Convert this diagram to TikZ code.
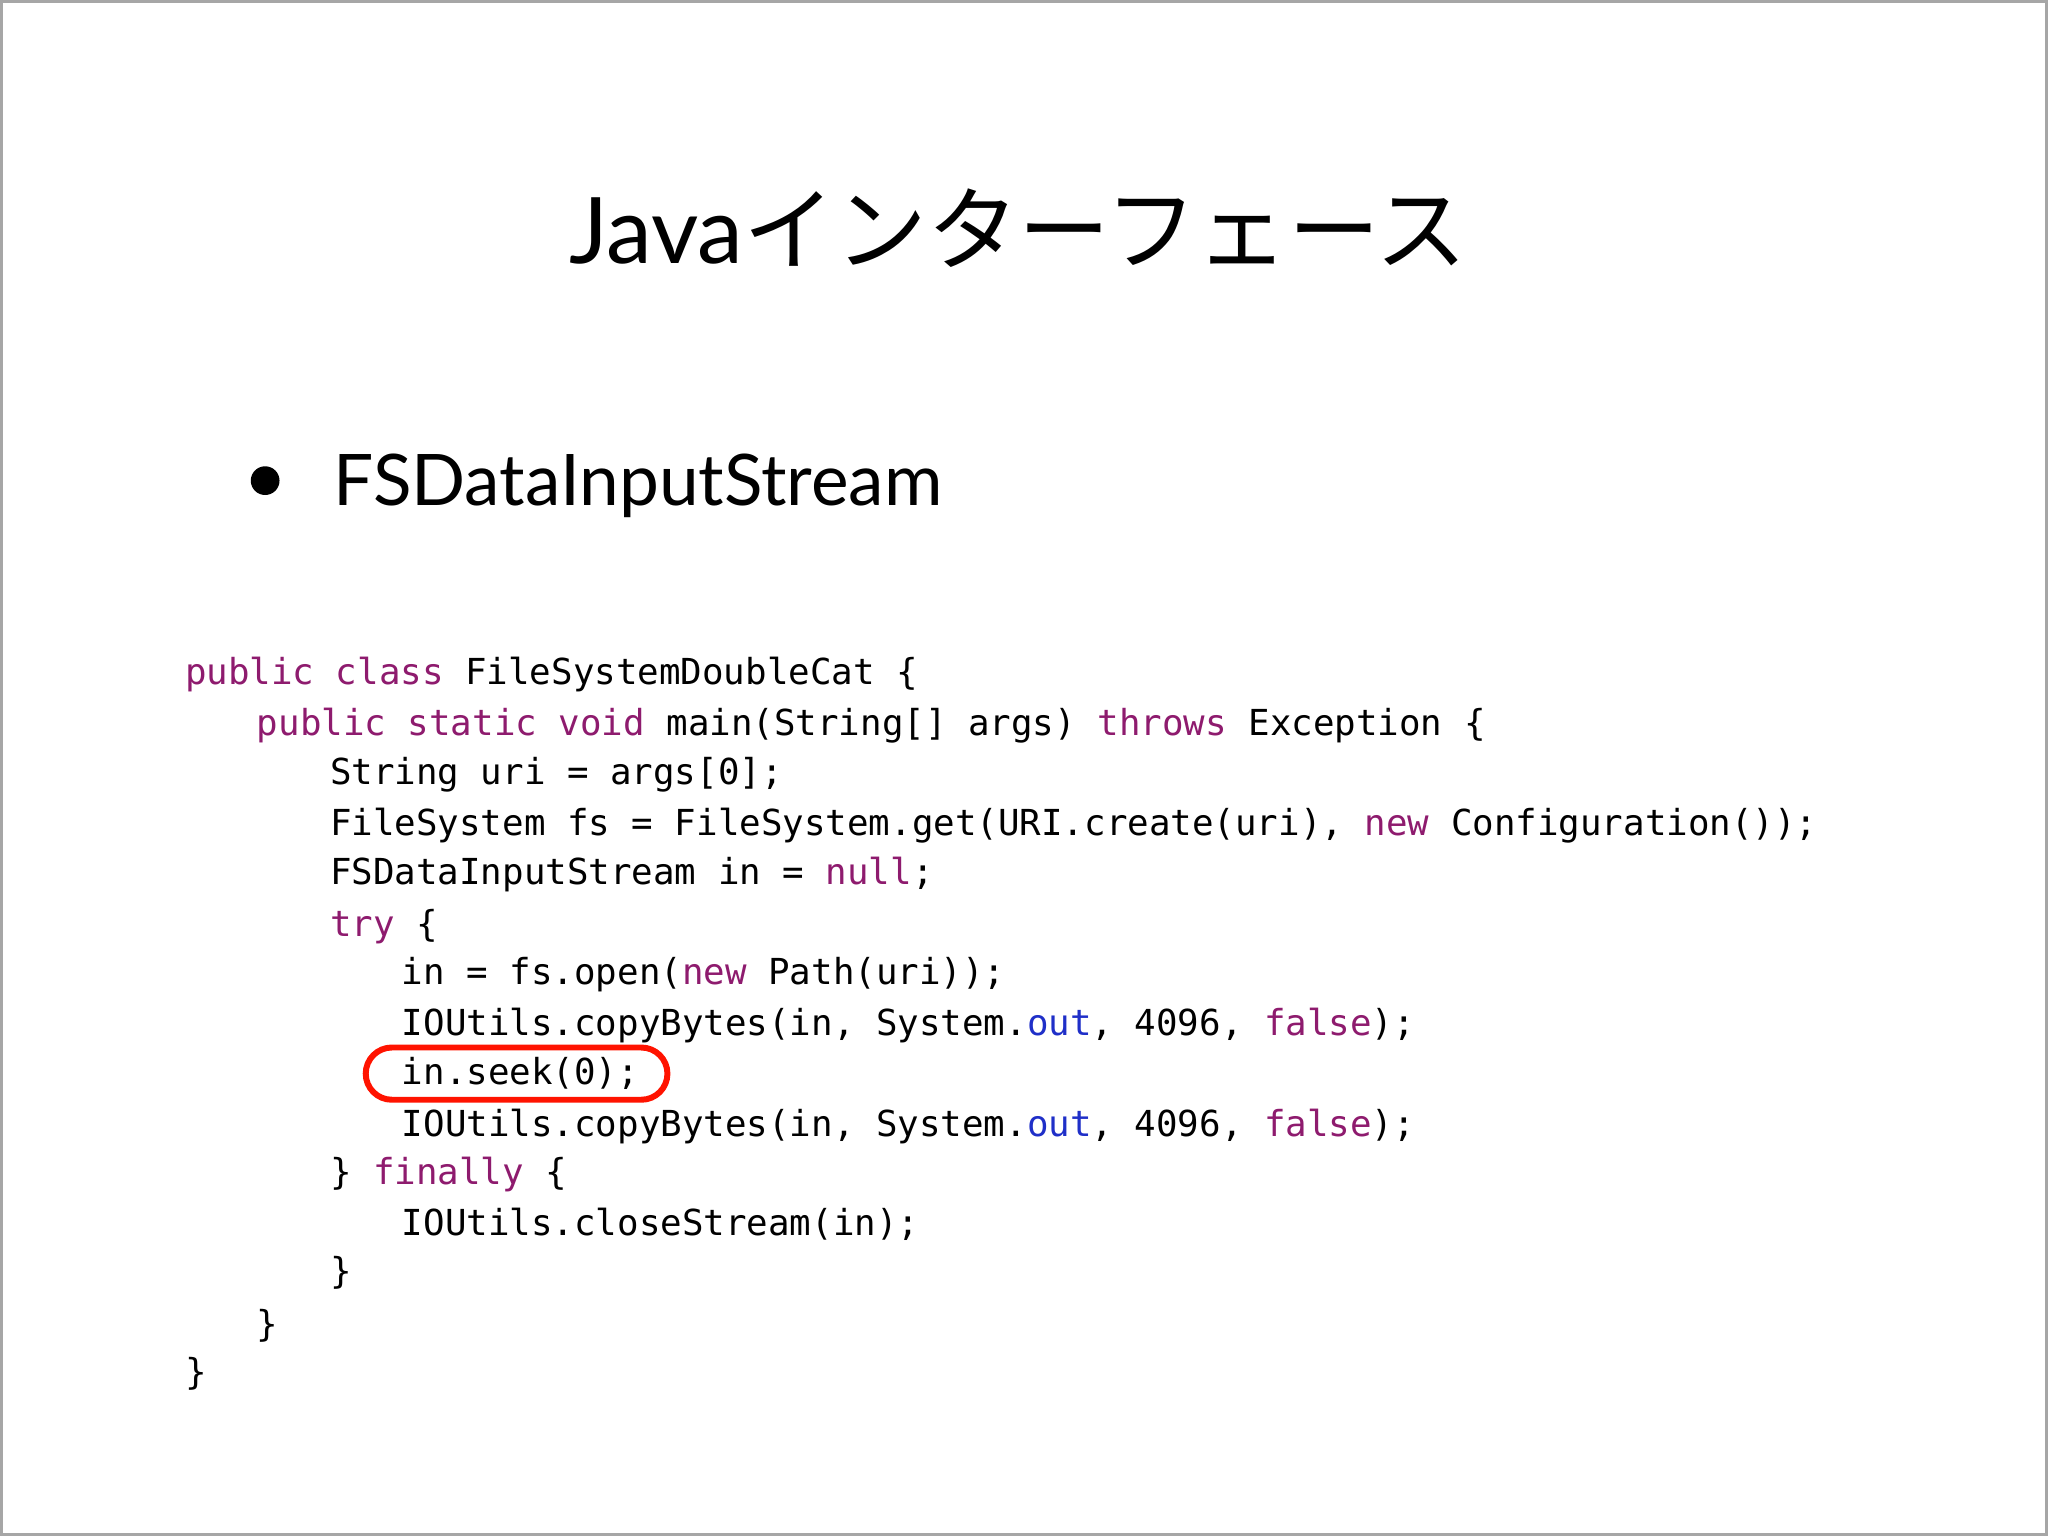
\documentclass[tikz,border=0pt]{standalone}
\usepackage{fontspec}
\setmainfont{Lato}
\newfontfamily\cjk{Noto Sans CJK JP}
\newfontfamily\codefont{DejaVu Sans Mono}
\definecolor{kwc}{HTML}{8E1B6E}
\definecolor{outc}{HTML}{1F2FC8}
\newcommand{\kw}[1]{\textcolor{kwc}{#1}}
\newcommand{\ou}[1]{\textcolor{outc}{#1}}
\begin{document}
\begin{tikzpicture}[x=1cm,y=1cm,
  codeline/.style={anchor=base west,inner sep=0pt,font=\codefont\fontsize{7.8pt}{9pt}\selectfont}]
\useasboundingbox (0,0) rectangle (15.68,-11.76);
\draw[gray!70,line width=0.6pt] (0.01,-0.01) rectangle (15.67,-11.75);
\node (title) at (7.80,-1.75) {\fontsize{20pt}{24pt}\selectfont Java{\cjk インターフェース}};
\fill (2.03,-3.68) circle (0.11);
\node[anchor=base west,inner sep=0pt] (bullet) at (2.55,-3.87) {\fontsize{15.5pt}{18pt}\selectfont FSDataInputStream};
\node[codeline] (l1) at (1.41,-5.24) {\kw{public} \kw{class} FileSystemDoubleCat \{};
\node[codeline] (l2) at (1.96,-5.63) {\kw{public} \kw{static} \kw{void} main(String[] args) \kw{throws} Exception \{};
\node[codeline] (l3) at (2.52,-6.01) {String uri = args[0];};
\node[codeline] (l4) at (2.52,-6.40) {FileSystem fs = FileSystem.get(URI.create(uri), \kw{new} Configuration());};
\node[codeline] (l5) at (2.52,-6.77) {FSDataInputStream in = \kw{null};};
\node[codeline] (l6) at (2.52,-7.17) {\kw{try} \{};
\node[codeline] (l7) at (3.07,-7.54) {in = fs.open(\kw{new} Path(uri));};
\node[codeline] (l8) at (3.07,-7.93) {IOUtils.copyBytes(in, System.\ou{out}, 4096, \kw{false});};
\node[codeline] (l9) at (3.07,-8.30) {in.seek(0);};
\node[codeline] (l10) at (3.07,-8.70) {IOUtils.copyBytes(in, System.\ou{out}, 4096, \kw{false});};
\node[codeline] (l11) at (2.52,-9.07) {\} \kw{finally} \{};
\node[codeline] (l12) at (3.07,-9.46) {IOUtils.closeStream(in);};
\node[codeline] (l13) at (2.52,-9.83) {\}};
\node[codeline] (l14) at (1.96,-10.23) {\}};
\node[codeline] (l15) at (1.41,-10.60) {\}};
\draw[red!85!orange,line width=1.3pt,rounded corners=0.2cm] (2.80,-8.02) rectangle (5.11,-8.42);
\end{tikzpicture}
\end{document}
